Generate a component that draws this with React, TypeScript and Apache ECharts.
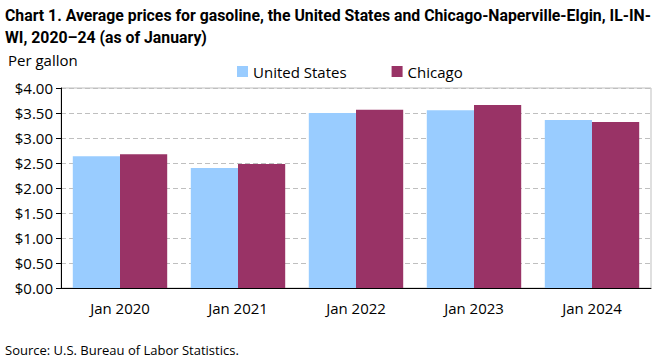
import React, { useEffect, useRef } from "react";
import * as echarts from "echarts";

const categories = ["Jan 2020", "Jan 2021", "Jan 2022", "Jan 2023", "Jan 2024"];
const usValues = [2.636, 2.4, 3.502, 3.557, 3.361];
const chicagoValues = [2.676, 2.482, 3.563, 3.658, 3.318];
const seriesNames = ["United States", "Chicago"];
const titleLines = [
  "Chart 1. Average prices for gasoline, the United States and Chicago-Naperville-Elgin, IL-IN-",
  "WI, 2020\u201324 (as of January)",
];
const unitLabel = "Per gallon";
const sourceText = "Source: U.S. Bureau of Labor Statistics.";

const FONT = "'Open Sans', sans-serif";
const TITLE_FONT = "Roboto, 'Open Sans', sans-serif";

export default function App() {
  const ref = useRef<HTMLDivElement>(null);
  useEffect(() => {
    const chart = echarts.init(ref.current!, null, { renderer: "svg" });
    chart.setOption({
      animation: false,
      textStyle: { fontFamily: FONT },
      graphic: [
        {
          type: "text",
          left: 5,
          top: 4,
          style: {
            text: titleLines.join("\n"),
            font: `bold 15.8px ${TITLE_FONT}`,
            fill: "#000",
            lineHeight: 22,
          },
        },
        {
          type: "text",
          left: 8,
          top: 52,
          style: { text: unitLabel, font: `15px ${FONT}`, fill: "#000" },
        },
        {
          type: "text",
          left: 5,
          top: 343,
          style: { text: sourceText, font: `13px ${FONT}`, fill: "#000" },
        },
      ],
      legend: {
        top: 59,
        left: 232,
        itemWidth: 11,
        itemHeight: 11,
        itemGap: 45,
        icon: "rect",
        textStyle: { fontSize: 15, fontFamily: FONT, color: "#000" },
        data: seriesNames,
      },
      grid: {
        left: 61,
        right: 10,
        top: 88,
        bottom: 73,
        show: true,
        borderColor: "#bfbfbf",
        borderWidth: 1,
      },
      xAxis: {
        type: "category",
        data: categories,
        axisLine: { lineStyle: { color: "#000" } },
        axisTick: { show: false },
        axisLabel: { color: "#000", fontSize: 15, fontFamily: FONT, margin: 12 },
      },
      yAxis: {
        type: "value",
        min: 0,
        max: 4,
        interval: 0.5,
        axisLine: { show: true, lineStyle: { color: "#000" } },
        axisTick: { show: true, length: 5, lineStyle: { color: "#000" } },
        axisLabel: {
          color: "#000",
          fontSize: 15,
          fontFamily: FONT,
          margin: 8,
          formatter: (v: number) => "$" + v.toFixed(2),
        },
        splitLine: { lineStyle: { color: "#bfbfbf", type: [5, 3] } },
      },
      series: [
        {
          name: seriesNames[0],
          type: "bar",
          data: usValues,
          barGap: "0%",
          barCategoryGap: "20%",
          itemStyle: { color: "#99ccff" },
        },
        {
          name: seriesNames[1],
          type: "bar",
          data: chicagoValues,
          barGap: "0%",
          barCategoryGap: "20%",
          itemStyle: { color: "#993366" },
        },
      ],
    });
    return () => chart.dispose();
  }, []);
  return <div ref={ref} style={{ width: 661, height: 361, position: "absolute", left: 0, top: 0 }} />;
}
